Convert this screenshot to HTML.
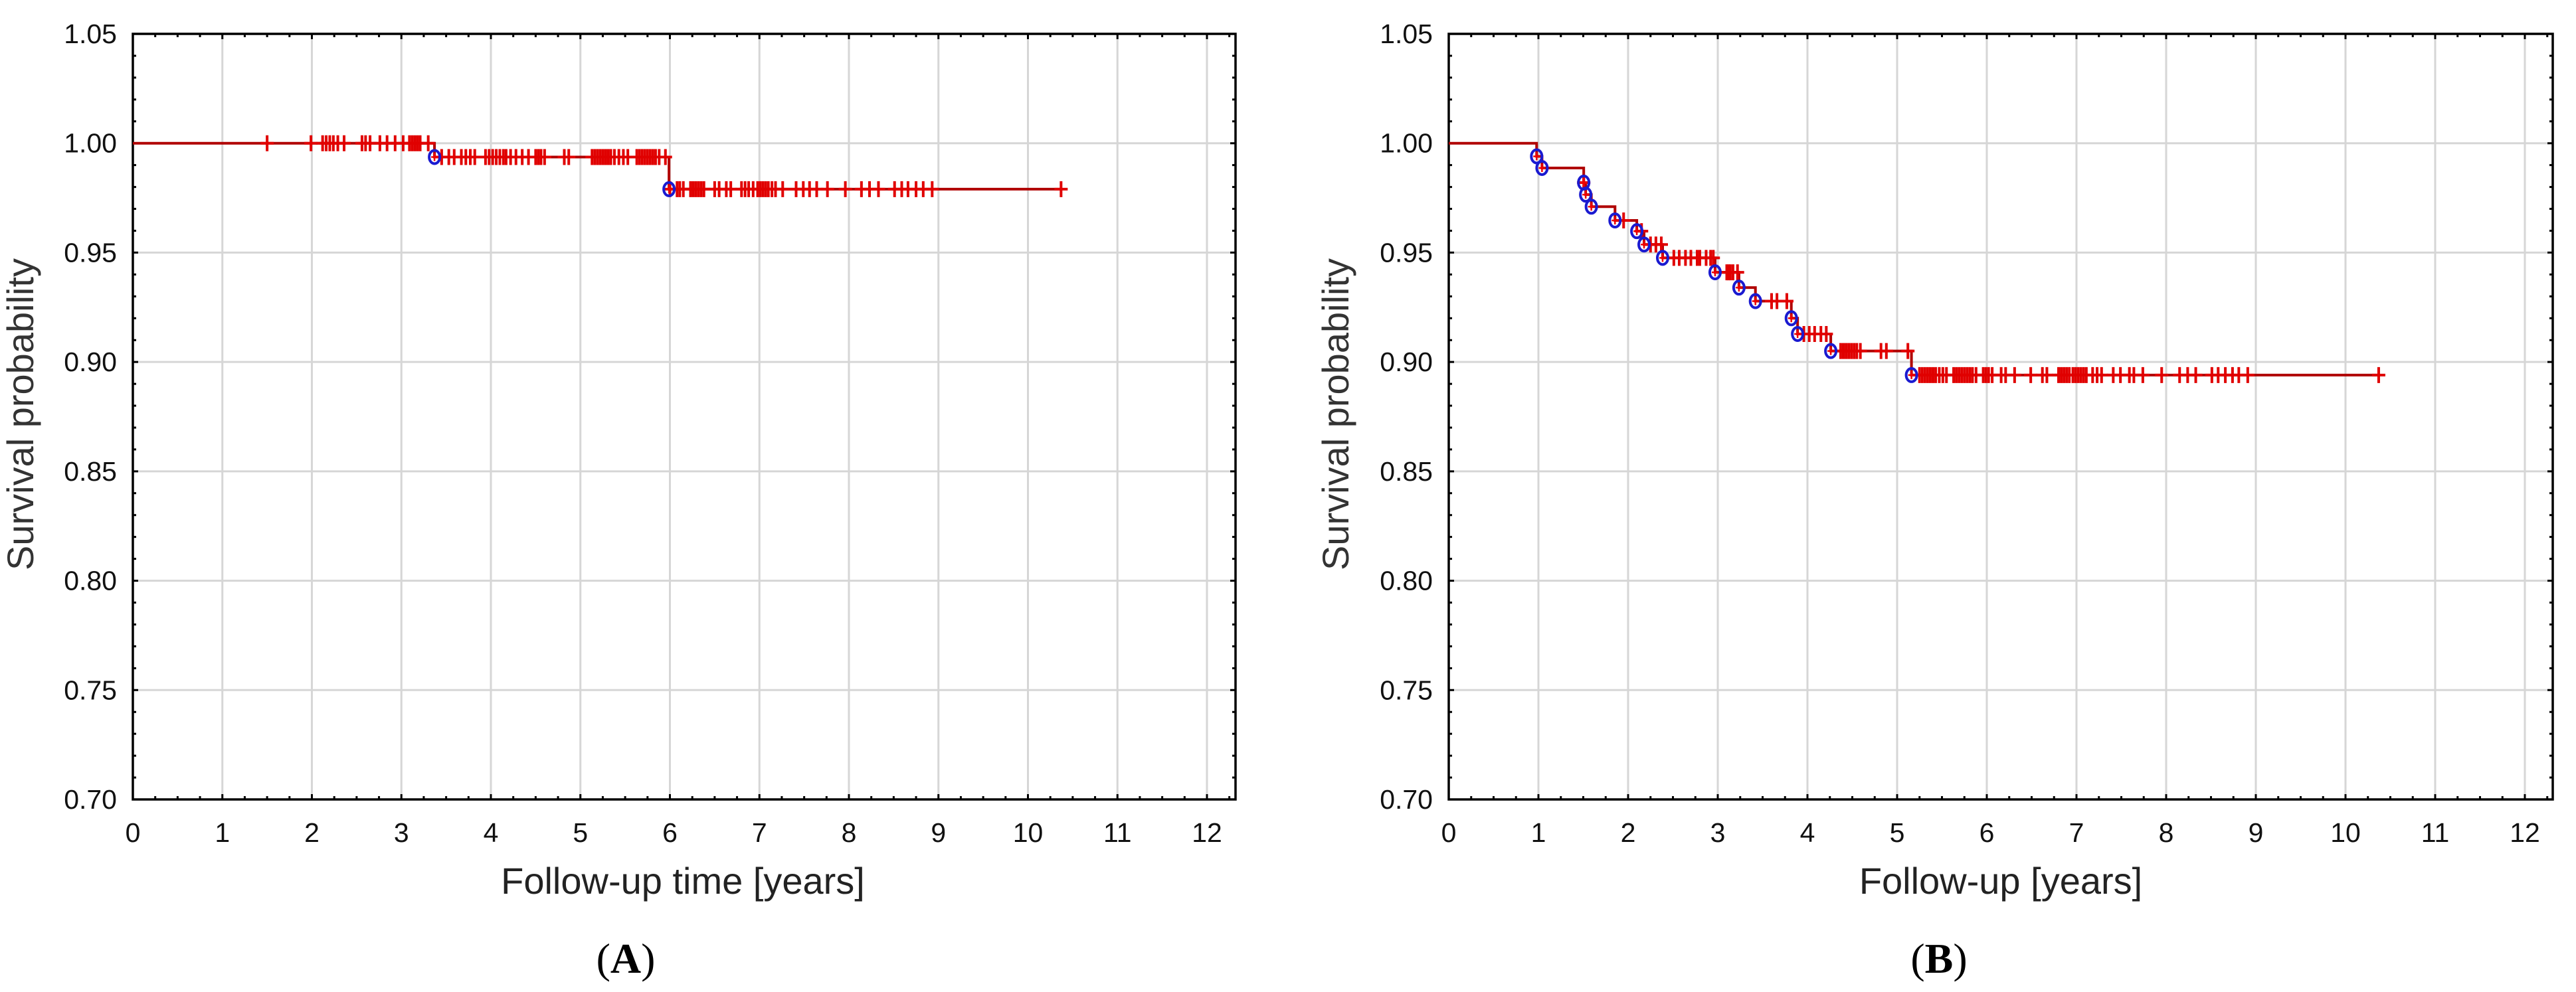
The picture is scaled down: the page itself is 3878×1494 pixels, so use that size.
<!DOCTYPE html>
<html><head><meta charset="utf-8"><style>
html,body{margin:0;padding:0;background:#fff;}
svg{display:block;font-family:"Liberation Sans",Arial,sans-serif;}
</style></head><body>
<svg id="fig" width="3878" height="1494" viewBox="0 0 3878 1494" xmlns="http://www.w3.org/2000/svg"></svg>
<script>
// ---- Data ----
const xTicks = [0,1,2,3,4,5,6,7,8,9,10,11,12];
const yTicks = [0.70,0.75,0.80,0.85,0.90,0.95,1.00,1.05];
// Panel A: event times / survival after event
const aEventTimes = [3.37, 5.99];
const aEventSurv = [0.9937, 0.979];
const aCensorTimes = [1.50,1.99,2.12,2.16,2.20,2.24,2.29,2.36,2.56,2.60,2.65,2.76,2.84,2.93,3.02,3.09,3.12,3.15,3.18,3.21,3.30,
 3.45,3.53,3.59,3.67,3.72,3.77,3.82,3.94,3.98,4.02,4.06,4.10,4.14,4.17,4.22,4.28,4.35,4.42,4.50,4.53,4.56,4.60,4.82,4.87,
 5.13,5.16,5.19,5.22,5.25,5.28,5.31,5.34,5.38,5.43,5.48,5.53,5.63,5.66,5.69,5.72,5.75,5.78,5.81,5.84,5.88,5.95,6.00,
 6.08,6.11,6.15,6.23,6.26,6.29,6.32,6.35,6.38,6.50,6.55,6.63,6.68,6.80,6.84,6.88,6.93,6.98,7.01,7.04,7.07,7.10,7.14,7.18,7.26,
 7.41,7.49,7.56,7.64,7.76,7.96,8.14,8.23,8.33,8.51,8.59,8.66,8.75,8.83,8.93,10.37];
// Panel B
const bEventTimes = [0.98,1.04,1.505,1.527,1.59,1.854,2.097,2.178,2.385,2.97,3.236,3.42,3.82,3.89,4.26,5.16];
const bEventSurv = [0.994,0.9887,0.982,0.9765,0.971,0.9647,0.9598,0.9537,0.9476,0.941,0.934,0.9278,0.920,0.9128,0.905,0.894];
const bCensorTimes = [1.505,1.95,2.15,2.25,2.31,2.37,2.51,2.57,2.64,2.70,2.77,2.80,2.87,2.92,2.95,3.10,3.12,3.14,3.17,3.22,
 3.60,3.66,3.77,3.96,4.02,4.08,4.15,4.21,4.37,4.40,4.43,4.46,4.49,4.52,4.55,4.59,4.82,4.88,5.12,
 5.25,5.28,5.31,5.34,5.37,5.40,5.43,5.47,5.51,5.55,5.63,5.66,5.69,5.72,5.75,5.78,5.81,5.84,5.88,5.96,5.99,6.02,6.06,
 6.16,6.21,6.31,6.49,6.62,6.67,6.80,6.83,6.86,6.89,6.92,6.96,6.99,7.02,7.05,7.08,7.11,7.18,7.23,7.28,
 7.41,7.49,7.59,7.64,7.74,7.95,8.15,8.24,8.33,8.51,8.58,8.66,8.74,8.81,8.91,10.37];

const NS='http://www.w3.org/2000/svg';
const svg=document.getElementById('fig');
function mk(tag,attrs,parent){const e=document.createElementNS(NS,tag);for(const k in attrs)e.setAttribute(k,attrs[k]);(parent||svg).appendChild(e);return e;}

function survAt(t,times,surv){let s=1;for(let i=0;i<times.length;i++){if(times[i]<=t)s=surv[i];}return s;}

function panel(cfg){
  const g=mk('g',{});
  
  
  const L=cfg.left,R=cfg.right,T=51,B=1204,xs=cfg.xs;
  const X=v=>L+v*xs;
  const Y=v=>T+(1.05-v)/0.35*(B-T);
  xTicks.forEach(v=>{if(v>0){const l=mk('line',{x1:X(v),x2:X(v),y1:T,y2:B,stroke:'#d6d6d6','stroke-width':3},g);
    }});
  yTicks.forEach(v=>{if(v>0.7&&v<1.05){const l=mk('line',{x1:L,x2:R,y1:Y(v),y2:Y(v),stroke:'#d6d6d6','stroke-width':3},g);
    }});
  let p='';
  for(let k=0;k*0.25<=(R-L)/xs;k++){const x=X(k*0.25);const len=(k%4===0)?8:5;p+=`M${x} ${B}v${-len}M${x} ${T}v${len}`;}
  for(let k=0;k<=35;k++){const y=Y(0.70+k*0.01);const len=(k%5===0)?8:5;p+=`M${L} ${y}h${len}M${R} ${y}h${-len}`;}
  const tk=mk('path',{d:p,stroke:'#000','stroke-width':3,fill:'none'},g);
  
  const fr=mk('rect',{x:L,y:T,width:R-L,height:B-T,fill:'none',stroke:'#000','stroke-width':3.5},g);
  
  xTicks.forEach(v=>{const t=mk('text',{x:X(v),y:1268,'font-size':41,'text-anchor':'middle',fill:'#111'},g);t.textContent=v;
    });
  yTicks.forEach(v=>{const t=mk('text',{x:L-24,y:Y(v)+14,'font-size':41,'text-anchor':'end',fill:'#111'},g);t.textContent=v.toFixed(2);
    });
  const yt=mk('text',{x:0,y:0,'font-size':56,'text-anchor':'middle',fill:'#333',transform:`translate(${cfg.ytx},624) rotate(-90)`},g);
  yt.textContent='Survival probability';
  const xt=mk('text',{x:cfg.xtx,y:1346,'font-size':56,'text-anchor':'middle',fill:'#222'},g);
  xt.textContent=cfg.xtitle;
  const pl=mk('text',{x:cfg.lx,y:1465,'font-size':64,'text-anchor':'middle',fill:'#000','font-family':'"Liberation Serif",serif'},g);
  pl.innerHTML='(<tspan font-weight="bold">'+cfg.label+'</tspan>)';
  
  const times=cfg.et,surv=cfg.es;
  const tmax=Math.max(...cfg.ct);
  let d=`M${X(0)} ${Y(1)}`;
  times.forEach((t,i)=>{d+=`H${X(t)}V${Y(surv[i])}`;});
  d+=`H${X(tmax)}`;
  const c=mk('path',{d:d,stroke:'#b00000','stroke-width':4,fill:'none'},g);
  
  cfg.ct.forEach(t=>{const y=Y(survAt(t,times,surv));const x=X(t);
    const m=mk('path',{d:`M${x} ${y-12}V${y+12}M${x-10} ${y}H${x+10}`,stroke:'#e00000','stroke-width':4},g);
    });
  times.forEach((t,i)=>{const e=mk('ellipse',{cx:X(t),cy:Y(surv[i]),rx:8,ry:10,fill:'none',stroke:'#1a1ad0','stroke-width':4},g);
    
    const pm=mk('path',{d:`M${X(t)} ${Y(surv[i])-6}v12M${X(t)-5} ${Y(surv[i])}h10`,stroke:'#ee0000','stroke-width':2.5},g);
    });
}
panel({name:'panel-a',left:200,right:1860,xs:134.75,et:aEventTimes,es:aEventSurv,ct:aCensorTimes,ytx:50,xtx:1028,xtitle:'Follow-up time [years]',lx:942,label:'A'});
panel({name:'panel-b',left:2181,right:3843,xs:135,et:bEventTimes,es:bEventSurv,ct:bCensorTimes,ytx:2030,xtx:3012,xtitle:'Follow-up [years]',lx:2919,label:'B'});
</script>
</body></html>
